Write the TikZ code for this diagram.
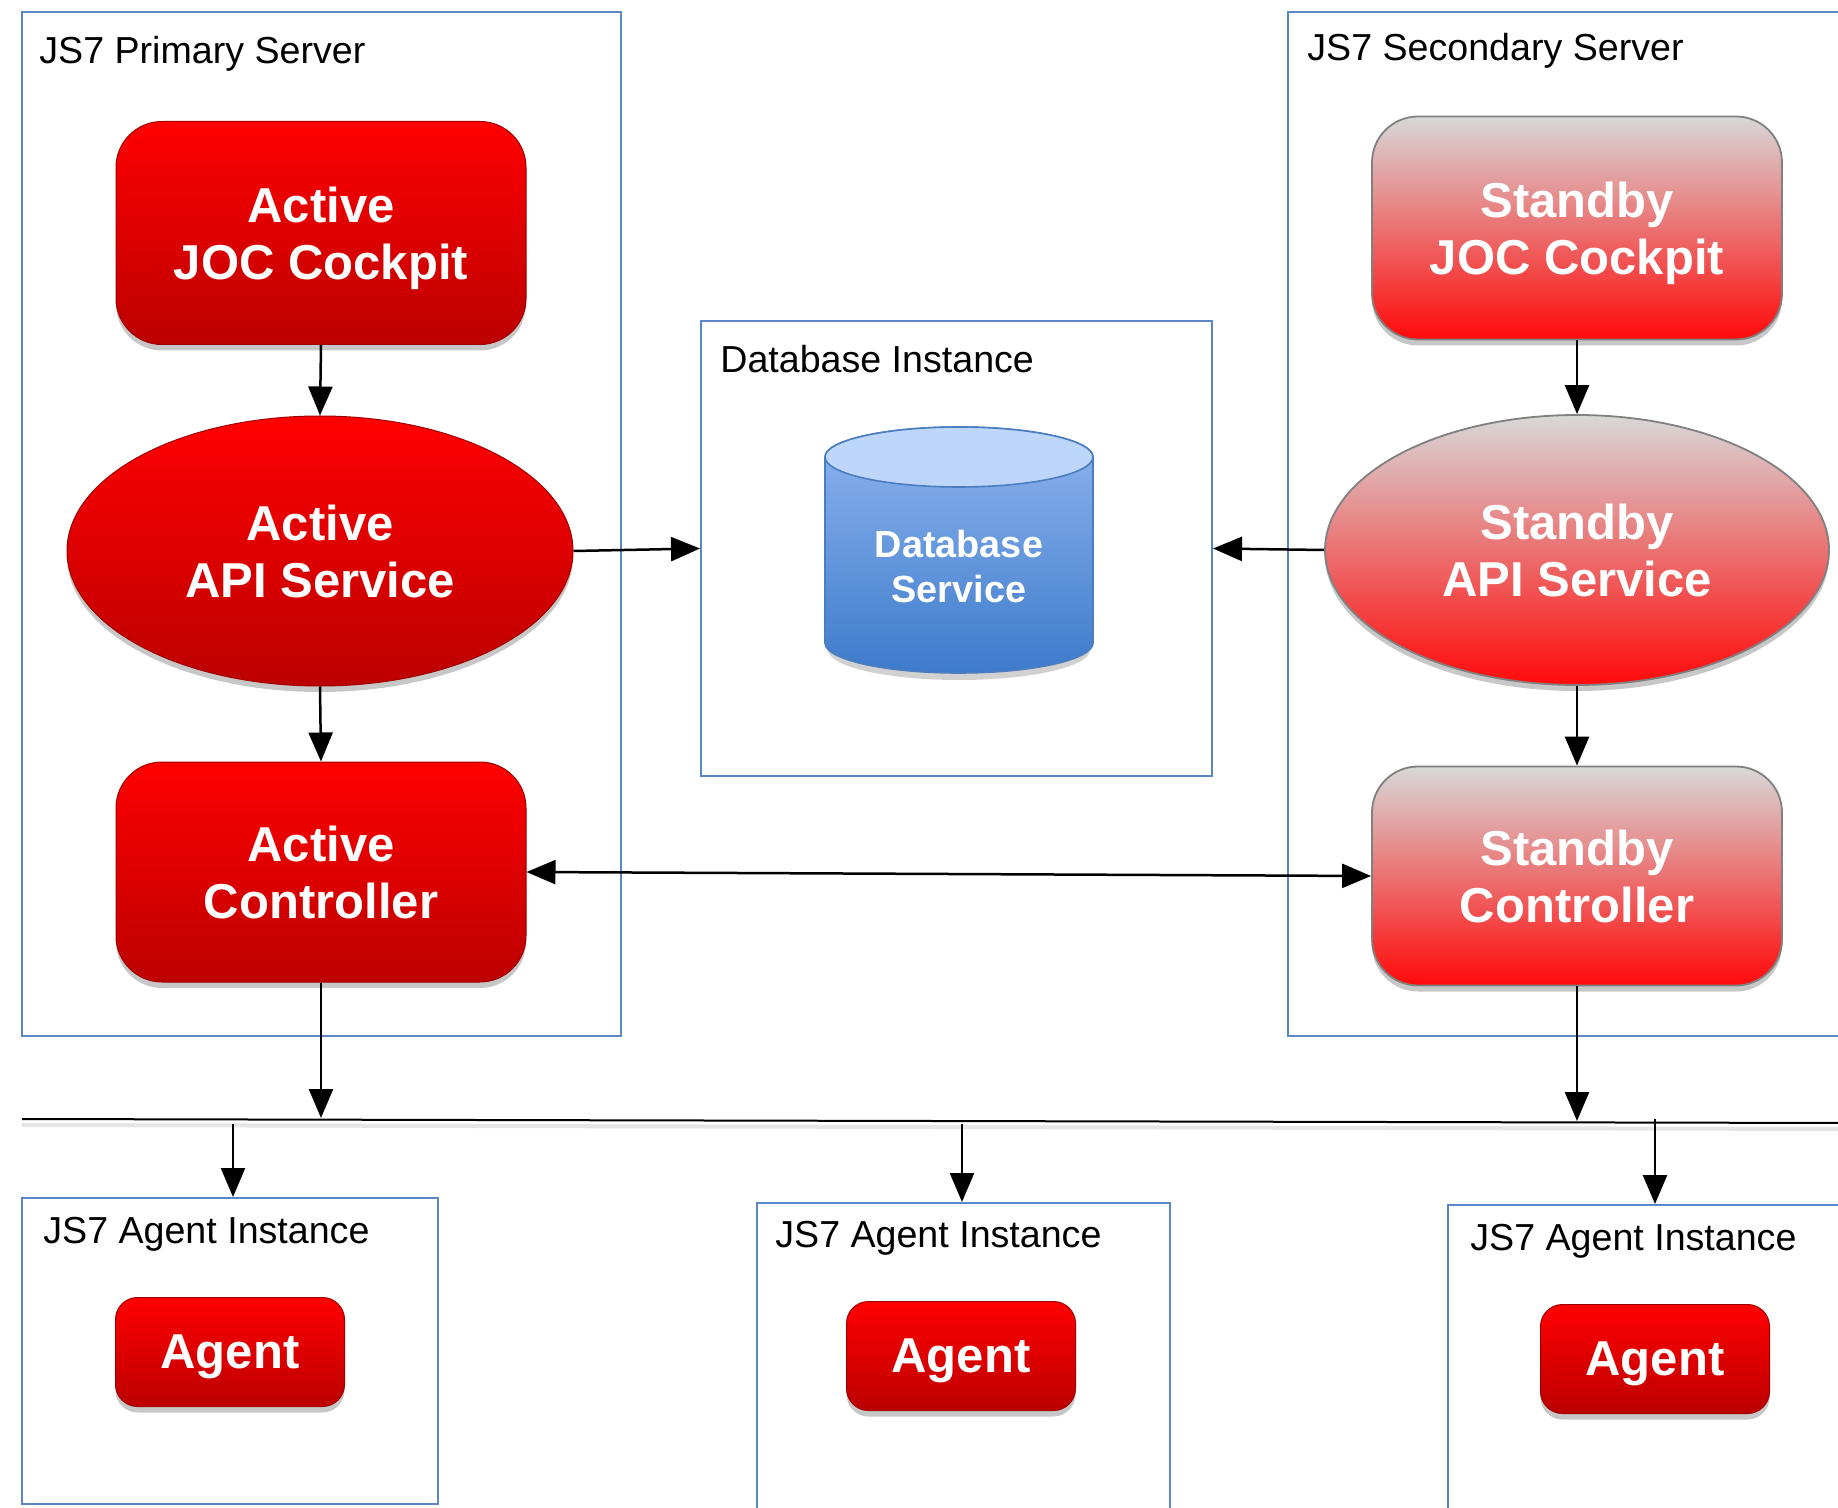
\documentclass[tikz,border=0pt]{standalone}
\usepackage{fontspec}
\setmainfont{Liberation Sans}
\usetikzlibrary{shapes.geometric,arrows.meta,shadows}
\definecolor{boxblue}{HTML}{5A88C6}
\definecolor{redtop}{HTML}{FF0000}
\definecolor{redbot}{HTML}{BC0000}
\definecolor{sbtop}{HTML}{D8D8D8}
\definecolor{sbmid}{HTML}{EBA6A6}
\definecolor{sbbot}{HTML}{FF0A0A}
\definecolor{dbtop}{HTML}{BDD6FA}
\definecolor{dbbodytop}{HTML}{8FB5F0}
\definecolor{dbbodybot}{HTML}{3E7BCB}
\definecolor{dbline}{HTML}{4A7EC0}
\begin{document}
\begin{tikzpicture}[x=0.5pt,y=-0.5pt,
  container/.style={rectangle, draw=boxblue, line width=1pt, fill=white, inner sep=0pt},
  lbl/.style={anchor=base west, inner sep=0pt, font=\fontsize{18.8}{23}\selectfont},
  shad/.style={drop shadow={shadow xshift=0pt, shadow yshift=-3pt, opacity=0.22, fill=black}},
  bigtext/.style={text=white, align=center, inner sep=0pt, text depth=0pt, font=\bfseries\fontsize{24.5}{28.5}\selectfont},
  activefill/.style={draw=redbot!85!black, line width=0.5pt, top color=redtop, bottom color=redbot},
  standbyfill/.style={draw=black!50, line width=0.9pt, top color=sbtop, middle color=sbmid, bottom color=sbbot},
  activebox/.style={rectangle, rounded corners=23pt, activefill, bigtext, shad, minimum width=205pt},
  standbybox/.style={rectangle, rounded corners=23pt, standbyfill, bigtext, shad, minimum width=205pt},
  activeell/.style={ellipse, activefill, bigtext, shad},
  standbyell/.style={ellipse, standbyfill, bigtext, shad},
  agentbox/.style={rectangle, rounded corners=11pt, activefill, bigtext, shad, minimum width=114.5pt, minimum height=54.5pt},
  arr/.style={line width=1.25pt, -{Triangle[length=14.5pt,width=12pt]}},
  dblarr/.style={line width=1.25pt, {Triangle[length=14.5pt,width=12pt]}-{Triangle[length=14.5pt,width=12pt]}},
]
\useasboundingbox (0,0) rectangle (1838,1508);
\clip (0,0) rectangle (1838,1508);
\fill[white] (0,0) rectangle (1838,1508);

% containers
\node[container, minimum width=299.5pt, minimum height=512pt] (prim) at (321.5,524) {};
\node[container, minimum width=278.5pt, minimum height=512pt] (sec) at (1566.5,524) {};
\node[container, minimum width=255.5pt, minimum height=227.5pt] (dbinst) at (956.5,548.5) {};
\node[container, minimum width=208pt, minimum height=153pt] (ag1box) at (230,1351) {};
\node[container, minimum width=206.5pt, minimum height=156pt] (ag2box) at (963.5,1359) {};
\node[container, minimum width=198.5pt, minimum height=155pt] (ag3box) at (1646.5,1360) {};

% container labels
\node[lbl] (primlbl) at (39,64) {JS7 Primary Server};
\node[lbl] (seclbl) at (1307,61) {JS7 Secondary Server};
\node[lbl] (dblbl) at (720,373) {Database Instance};
\node[lbl] (ag1lbl) at (43,1243) {JS7 Agent Instance};
\node[lbl] (ag2lbl) at (775,1247) {JS7 Agent Instance};
\node[lbl] (ag3lbl) at (1470,1250) {JS7 Agent Instance};

% primary server components
\node[activebox, minimum height=111.5pt] (ajoc) at (321,233) {Active\\JOC Cockpit};
\node[activeell, minimum width=253pt, minimum height=135pt] (aapi) at (320,551) {Active\\API Service};
\node[activebox, minimum height=110pt] (actl) at (321,872) {Active\\Controller};

% secondary server components
\node[standbybox, minimum height=111.5pt] (sjoc) at (1577,228) {Standby\\JOC Cockpit};
\node[standbyell, minimum width=252pt, minimum height=135pt] (sapi) at (1577,550) {Standby\\API Service};
\node[standbybox, minimum height=109.5pt] (sctl) at (1577,876) {Standby\\Controller};

% database cylinder
\fill[black, opacity=0.18] (828,650) arc[start angle=180, end angle=0, x radius=131, y radius=30] -- cycle;
\shade[top color=dbbodytop, bottom color=dbbodybot, draw=dbline, line width=0.8pt]
  (825,457) -- (825,643) arc[start angle=180, end angle=0, x radius=134, y radius=30]
  -- (1093,457) arc[start angle=0, end angle=-180, x radius=134, y radius=30] -- cycle;
\draw[fill=dbtop, draw=dbline, line width=0.8pt] (959,457) ellipse[x radius=134, y radius=30];
\node[text=white, align=center, inner sep=0pt, font=\bfseries\fontsize{18.9}{22.5}\selectfont] (db) at (959,566) {Database\\Service};

% agents
\node[agentbox] (ag1) at (230,1352) {Agent};
\node[agentbox] (ag2) at (961,1356) {Agent};
\node[agentbox] (ag3) at (1655,1359) {Agent};

% bus line
\coordinate (busL) at (22,1119);
\coordinate (busR) at (1845,1123);
\draw[black!10, line width=2pt] ([yshift=-3pt]busL) -- ([yshift=-3pt]busR);
\draw[line width=1pt] (busL) -- (busR);

\coordinate (pbus) at (321,1118);
\coordinate (sbus) at (1577,1121);
\coordinate (b1) at (233,1124);
\coordinate (b2) at (962,1124);
\coordinate (b3) at (1655,1119);

% connectors
\draw[arr] (ajoc.south) -- (aapi.north);
\draw[arr] (aapi.south) -- (actl.north);
\draw[arr] (sjoc.south) -- (sapi.north);
\draw[arr] (sapi.south) -- (sctl.north);
\draw[arr] (aapi.east) -- (dbinst.west);
\draw[arr] (sapi.west) -- (dbinst.east);
\draw[dblarr] (actl.east) -- (sctl.west);
\draw[arr] (actl.south) -- (pbus);
\draw[arr] (sctl.south) -- (sbus);
\draw[arr] (b1) -- (b1 |- ag1box.north);
\draw[arr] (b2) -- (b2 |- ag2box.north);
\draw[arr] (b3) -- (b3 |- ag3box.north);
\end{tikzpicture}
\end{document}
